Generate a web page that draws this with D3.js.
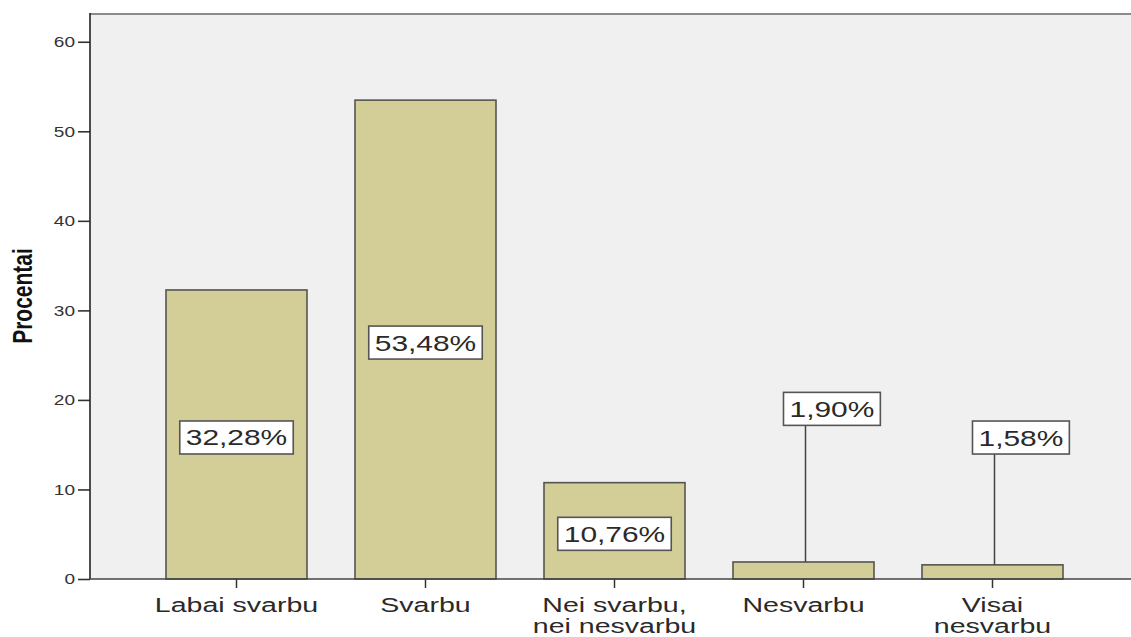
<!DOCTYPE html>
<html>
<head>
<meta charset="utf-8">
<script src="https://cdn.jsdelivr.net/npm/d3@7/dist/d3.min.js"></script>
<style>
  html, body { margin: 0; padding: 0; background: #ffffff; }
  svg { display: block; }
  text { font-family: "Liberation Sans", Arial, sans-serif; }
</style>
</head>
<body>
<svg id="chart" width="1131" height="637"></svg>
<script>
// ---- data ----
const categories = [["Labai svarbu"], ["Svarbu"], ["Nei svarbu,", "nei nesvarbu"], ["Nesvarbu"], ["Visai", "nesvarbu"]];
const values = [32.28, 53.48, 10.76, 1.90, 1.58];
const valueLabels = ["32,28%", "53,48%", "10,76%", "1,90%", "1,58%"];
const yTicks = [0, 10, 20, 30, 40, 50, 60];
const yTitle = "Procentai";

// ---- layout ----
const W = 1131, H = 637;
const plotLeft = 90, plotTop = 14, plotBottom = 579;
const SX = 1.36; // horizontal text stretch of the original

const svg = d3.select("#chart");
const keys = categories.map((c, i) => "c" + i);

const x = d3.scaleBand()
  .domain(keys)
  .range([plotLeft, plotLeft + 1049])
  .paddingInner(48 / 189)
  .paddingOuter(76 / 189);

const y = d3.scaleLinear().domain([0, 63.1]).range([plotBottom, plotTop]);

// plot background
svg.append("rect")
  .attr("x", plotLeft).attr("y", plotTop)
  .attr("width", W - plotLeft).attr("height", plotBottom - plotTop)
  .attr("fill", "#f0f0f0");

// top border
svg.append("line")
  .attr("x1", plotLeft).attr("x2", W).attr("y1", plotTop).attr("y2", plotTop)
  .attr("stroke", "#8a8a8a").attr("stroke-width", 2.2);

// bars
svg.append("g").selectAll("rect")
  .data(values)
  .join("rect")
  .attr("x", (d, i) => x(keys[i]))
  .attr("y", d => y(d))
  .attr("width", x.bandwidth())
  .attr("height", d => y(0) - y(d))
  .attr("fill", "#d3ce97")
  .attr("stroke", "#555550")
  .attr("stroke-width", 1.6);

// y axis
const yAxis = svg.append("g").attr("transform", `translate(${plotLeft},0)`)
  .call(d3.axisLeft(y).tickValues(yTicks).tickSize(12).tickPadding(3).tickFormat(d3.format("d")));
yAxis.select(".domain").remove();
yAxis.selectAll(".tick line").attr("stroke", "#333").attr("stroke-width", 1.6);
yAxis.selectAll(".tick text")
  .attr("fill", "#333").attr("font-size", 14)
  .attr("x", 0).attr("dy", "0.35em")
  .attr("transform", `translate(-15,0) scale(${SX},1)`);
svg.append("line")
  .attr("x1", plotLeft).attr("x2", plotLeft).attr("y1", plotTop - 1).attr("y2", plotBottom)
  .attr("stroke", "#222").attr("stroke-width", 1.6);

// x axis
const xAxis = svg.append("g").attr("transform", `translate(0,${plotBottom})`)
  .call(d3.axisBottom(x).tickSize(9).tickFormat(""));
xAxis.select(".domain").remove();
xAxis.selectAll(".tick line").attr("stroke", "#333").attr("stroke-width", 1.5);
svg.append("line")
  .attr("x1", plotLeft).attr("x2", W).attr("y1", plotBottom).attr("y2", plotBottom)
  .attr("stroke", "#444").attr("stroke-width", 1.5);

// category labels
const catG = svg.append("g");
categories.forEach((lines, i) => {
  const cx = x(keys[i]) + x.bandwidth() / 2;
  const t = catG.append("text")
    .attr("transform", `translate(${cx},612) scale(${SX},1)`)
    .attr("text-anchor", "middle")
    .attr("font-size", 21)
    .attr("fill", "#2a2a2a");
  lines.forEach((ln, j) => {
    t.append("tspan").attr("x", 0).attr("y", j * 21.5).text(ln);
  });
});

// y title
svg.append("text")
  .attr("transform", `translate(32,296) scale(${SX},1) rotate(-90)`)
  .attr("text-anchor", "middle")
  .attr("font-size", 21)
  .attr("font-weight", "bold")
  .attr("fill", "#111")
  .text(yTitle);

// value labels
const labG = svg.append("g");
values.forEach((v, i) => {
  const cx = x(keys[i]) + x.bandwidth() / 2;
  const fs = 22;
  const g = labG.append("g");
  const txt = g.append("text")
    .attr("font-size", fs)
    .attr("fill", "#2a2a2a")
    .attr("text-anchor", "middle")
    .text(valueLabels[i]);
  const tw = txt.node().getComputedTextLength() * SX;
  const bw = tw + 12, bh = 33;
  let bx, by;
  const inside = (y(0) - y(v)) > 60;
  if (inside) {
    const cy = y(v / 2) + 3;
    bx = cx - bw / 2; by = cy - bh / 2;
  } else {
    const lx = cx + 2;
    const cy = y(v * 10);
    bx = lx - 22; by = cy - bh / 2;
    g.insert("line", "text")
      .attr("x1", lx).attr("x2", lx)
      .attr("y1", by + bh).attr("y2", y(v))
      .attr("stroke", "#444").attr("stroke-width", 1.5);
  }
  g.insert("rect", "text")
    .attr("x", bx).attr("y", by).attr("width", bw).attr("height", bh)
    .attr("fill", "#ffffff").attr("stroke", "#555").attr("stroke-width", 1.6);
  txt.attr("transform", `translate(${bx + bw / 2},${by + bh / 2 + 8}) scale(${SX},1)`);
});
</script>
</body>
</html>
